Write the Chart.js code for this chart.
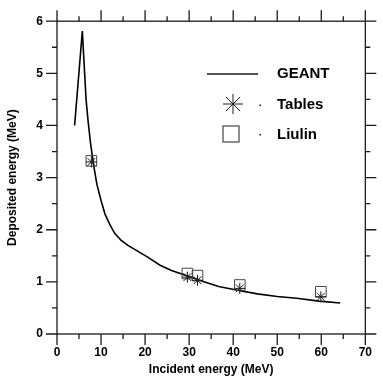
<!DOCTYPE html>
<html>
<head>
<meta charset="utf-8">
<script src="https://cdn.jsdelivr.net/npm/chart.js@4.4.0/dist/chart.umd.min.js"></script>
<style>
  body { margin: 0; background: #fff; }
  #wrap { width: 383px; height: 381px; }
</style>
</head>
<body>
<div id="wrap"><canvas id="chart"></canvas></div>
<script>
// GEANT simulation curve (incident MeV -> deposited MeV)
const geantX = [4, 5.75, 6.6, 7.1, 7.6, 8.3, 9.06, 10.0, 10.9, 12.0, 13.1, 14.5, 16.1, 18.3, 20.5, 23.4, 26.0, 29.3, 33.0, 36.7, 41.0, 45.5, 50.0, 54.4, 59.5, 64.3];
const geantY = [4.0, 5.81, 4.5, 4.05, 3.67, 3.25, 2.87, 2.56, 2.30, 2.10, 1.93, 1.80, 1.70, 1.59, 1.48, 1.32, 1.22, 1.12, 1.01, 0.91, 0.84, 0.77, 0.72, 0.685, 0.63, 0.595];

// tabulated values
const tablesX = [7.8, 29.6, 31.9, 41.5, 59.9];
const tablesY = [3.30, 1.09, 1.03, 0.875, 0.715];

// Liulin measurements
const liulinX = [7.8, 29.6, 31.9, 41.5, 59.9];
const liulinY = [3.32, 1.16, 1.12, 0.94, 0.81];

const legendLabels = ['GEANT', 'Tables', 'Liulin'];

const xTicks = [0, 10, 20, 30, 40, 50, 60, 70];
const yTicks = [0, 1, 2, 3, 4, 5, 6];

const toPoints = (xs, ys) => xs.map((x, i) => ({ x: x, y: ys[i] }));

const FONT = '"Liberation Sans", Arial, sans-serif';
const INK = '#1a1a1a';

// outward major/minor tick marks on all four sides + frame
const frameTicks = {
    id: 'frameTicks',
    afterDraw(chart) {
        const ctx = chart.ctx;
        const a = chart.chartArea;
        const xs = chart.scales.x;
        const ys = chart.scales.y;
        ctx.save();
        ctx.strokeStyle = INK;
        ctx.lineWidth = 1.3;
        ctx.strokeRect(a.left, a.top, a.right - a.left, a.bottom - a.top);
        ctx.beginPath();
        for (let v = 0; v <= 70; v += 5) {
            const px = xs.getPixelForValue(v);
            const len = v % 10 === 0 ? 11 : 5;
            ctx.moveTo(px, a.bottom);
            ctx.lineTo(px, a.bottom + len);
            ctx.moveTo(px, a.top);
            ctx.lineTo(px, a.top - len);
        }
        for (let v = 0; v <= 6; v += 0.5) {
            const py = ys.getPixelForValue(v);
            const len = v % 1 === 0 ? 11 : 5;
            ctx.moveTo(a.left, py);
            ctx.lineTo(a.left - len, py);
            ctx.moveTo(a.right, py);
            ctx.lineTo(a.right + len, py);
        }
        ctx.stroke();
        ctx.restore();
    }
};

// legend box drawn inside the plot
const plotLegend = {
    id: 'plotLegend',
    afterDraw(chart) {
        const ctx = chart.ctx;
        ctx.save();
        ctx.strokeStyle = INK;
        ctx.fillStyle = INK;

        // GEANT line
        ctx.lineWidth = 1.6;
        ctx.beginPath();
        ctx.moveTo(207, 74);
        ctx.lineTo(258, 74);
        ctx.stroke();

        // Tables star
        ctx.lineWidth = 1;
        const sx = 233, sy = 104, r = 10;
        ctx.beginPath();
        for (let k = 0; k < 4; k++) {
            const ang = k * Math.PI / 4;
            ctx.moveTo(sx - r * Math.cos(ang), sy - r * Math.sin(ang));
            ctx.lineTo(sx + r * Math.cos(ang), sy + r * Math.sin(ang));
        }
        ctx.stroke();

        // Liulin square
        ctx.strokeStyle = '#444';
        ctx.lineWidth = 1.2;
        ctx.strokeRect(223, 126, 16, 16);

        // tiny leftover dots
        ctx.fillRect(259.5, 104.5, 1.5, 1.5);
        ctx.fillRect(259.5, 134, 1.5, 1.5);

        ctx.fillStyle = '#000';
        ctx.font = 'bold 15px ' + FONT;
        ctx.textBaseline = 'middle';
        ctx.textAlign = 'left';
        ctx.fillText(legendLabels[0], 277, 74);
        ctx.fillText(legendLabels[1], 277, 105);
        ctx.fillText(legendLabels[2], 277, 135);
        ctx.restore();
    }
};

new Chart(document.getElementById('chart'), {
    type: 'scatter',
    data: {
        datasets: [
            {
                label: legendLabels[1],
                data: toPoints(tablesX, tablesY),
                pointStyle: 'star',
                pointRadius: 5.5,
                borderColor: INK,
                borderWidth: 1,
                backgroundColor: INK
            },
            {
                label: legendLabels[2],
                data: toPoints(liulinX, liulinY),
                pointStyle: 'rect',
                pointRadius: 7.5,
                borderColor: '#444',
                borderWidth: 1,
                backgroundColor: 'rgba(0,0,0,0)'
            },
            {
                label: legendLabels[0],
                data: toPoints(geantX, geantY),
                showLine: true,
                pointRadius: 0,
                borderColor: '#000',
                borderWidth: 1.6,
                tension: 0
            }
        ]
    },
    options: {
        responsive: true,
        maintainAspectRatio: false,
        animation: false,
        layout: { padding: { top: 19, right: 9, left: 0, bottom: 0 } },
        plugins: {
            legend: { display: false },
            tooltip: { enabled: false }
        },
        scales: {
            x: {
                type: 'linear',
                min: 0,
                max: 70,
                afterBuildTicks: (s) => { s.ticks = xTicks.map((v) => ({ value: v })); },
                afterFit: (s) => { s.height = 47; },
                grid: { display: false, drawTicks: false },
                border: { display: false },
                ticks: {
                    color: '#000',
                    padding: 11,
                    maxRotation: 0,
                    font: { family: FONT, size: 12, weight: 'bold' }
                },
                title: {
                    display: true,
                    text: 'Incident energy (MeV)',
                    color: '#000',
                    padding: { top: 0, bottom: 4 },
                    font: { family: FONT, size: 12, weight: 'bold' }
                }
            },
            y: {
                type: 'linear',
                min: 0,
                max: 6,
                afterBuildTicks: (s) => { s.ticks = yTicks.map((v) => ({ value: v })); },
                afterFit: (s) => { s.width = 57; },
                grid: { display: false, drawTicks: false },
                border: { display: false },
                ticks: {
                    color: '#000',
                    padding: 14,
                    font: { family: FONT, size: 12, weight: 'bold' }
                },
                title: {
                    display: true,
                    text: 'Deposited energy (MeV)',
                    color: '#000',
                    padding: { top: 5, bottom: 0 },
                    font: { family: FONT, size: 12, weight: 'bold' }
                }
            }
        }
    },
    plugins: [frameTicks, plotLegend]
});
</script>
</body>
</html>
